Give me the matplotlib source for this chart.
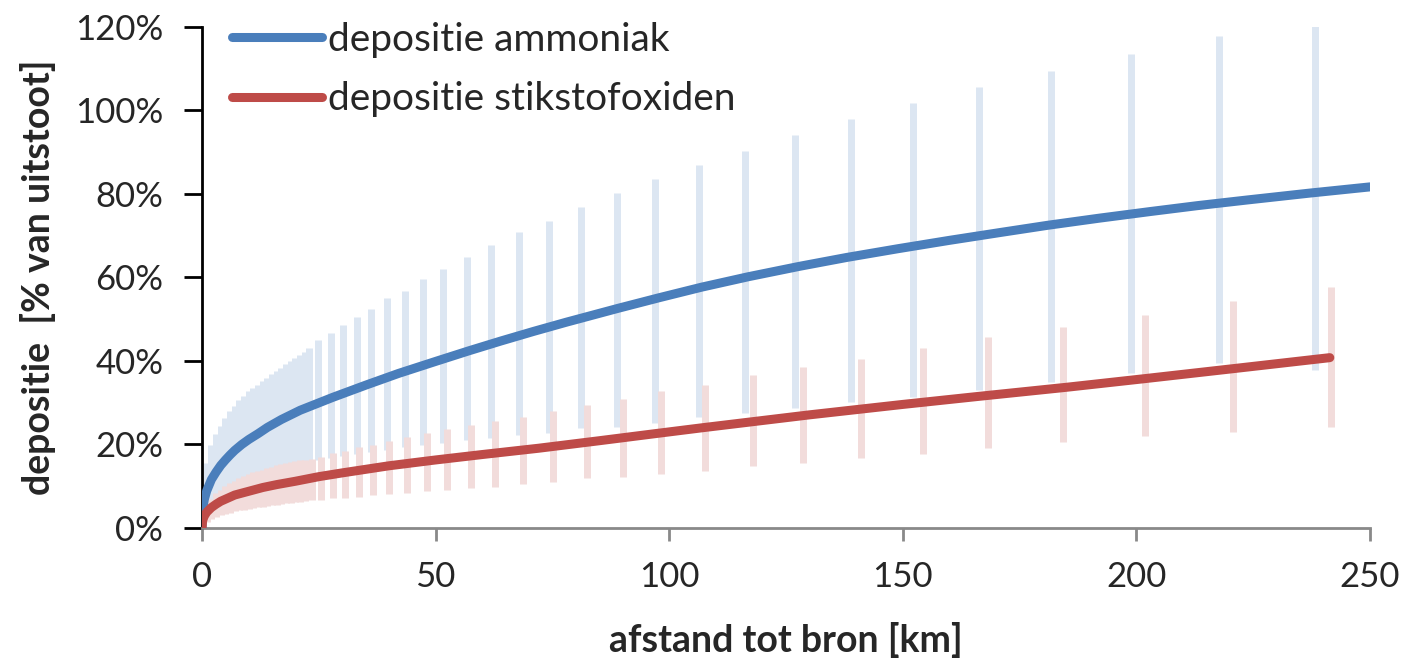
import matplotlib.pyplot as plt
from matplotlib.ticker import PercentFormatter

plt.rcParams['font.family'] = ['Lato', 'DejaVu Sans']

# central curves (km, % of emission)
nh3_x = [0, 0.1, 0.25, 0.5, 1, 2, 3, 4, 5, 6, 7, 8.5, 10, 12, 14, 17, 21, 28, 35, 42,
         50, 57, 64, 71, 78, 89, 98, 107, 117, 128, 138, 149, 160, 171, 181, 192, 203,
         213, 224, 237, 250]
nh3_y = [0, 3.7, 5.3, 6.9, 8.9, 11.6, 13.4, 15.0, 16.3, 17.5, 18.6, 20.0, 21.2, 22.6,
         24.1, 26.0, 28.2, 31.3, 34.2, 37.0, 39.9, 42.4, 44.8, 47.1, 49.3, 52.6, 55.2,
         57.7, 60.2, 62.7, 64.8, 66.9, 68.9, 70.8, 72.5, 74.2, 75.8, 77.2, 78.6, 80.2,
         81.7]

nox_x = [0, 0.1, 0.25, 0.5, 1, 2, 3, 4, 5, 7, 10, 13, 16, 20, 25, 30, 40, 50, 60, 72,
         85, 97, 107, 130, 150, 166, 185, 202, 221, 241.4]
nox_y = [0, 1.6, 2.2, 2.9, 3.8, 4.9, 5.7, 6.4, 6.9, 7.9, 8.8, 9.7, 10.4, 11.2, 12.3,
         13.2, 14.9, 16.3, 17.6, 19.1, 20.9, 22.6, 24.0, 27.1, 29.6, 31.5, 33.7, 35.8,
         38.2, 40.8]

# uncertainty ranges ammoniak
nh3_bar_x = [1, 2, 3, 4, 5, 6, 7, 8, 9, 10, 11, 12, 13, 14, 15, 16, 17, 18, 19, 20,
             21, 22, 23, 24.9, 27.5, 30.1, 33.1, 36.1, 39.5, 43.4, 47.2, 51.5, 56.7,
             61.8, 67.8, 74.2, 81.1, 88.8, 97.0, 106.4, 116.2, 126.9, 138.9, 152.2,
             166.3, 181.7, 198.8, 217.7, 238.2]
nh3_bar_hi = [15.5, 19.8, 22.5, 24.5, 26.3, 28.0, 29.3, 30.6, 31.7, 32.8, 33.6, 34.3,
              35.1, 36.0, 36.8, 37.6, 38.4, 39.2, 39.9, 40.6, 41.4, 42.2, 43.0, 45.0,
              46.8, 48.7, 50.6, 52.5, 55.0, 56.8, 59.7, 62.1, 65.0, 67.9, 70.8, 73.6,
              77.0, 80.3, 83.7, 87.0, 90.4, 94.2, 98.0, 101.9, 105.7, 109.5, 113.5,
              117.8, 121.0]
nh3_bar_lo = [3.5, 5.2, 6.5, 7.5, 8.3, 9.0, 9.6, 10.2, 10.7, 11.2, 11.7, 12.1, 12.5,
              12.9, 13.3, 13.7, 14.0, 14.4, 14.7, 15.0, 15.3, 15.6, 15.9, 16.3, 16.8,
              17.3, 17.8, 18.3, 18.8, 19.3, 19.9, 20.4, 21.0, 21.6, 22.2, 22.8, 23.9,
              24.3, 25.2, 26.7, 27.6, 28.7, 30.1, 31.4, 33.0, 35.0, 37.2, 39.4, 37.8]

# uncertainty ranges stikstofoxiden
nox_bar_x = [1, 2, 3, 4, 5, 6, 7, 8, 9, 10, 11, 12, 13, 14, 15, 16, 17, 18, 19, 20,
             21, 22, 23.5, 25.5, 28.0, 30.6, 33.6, 36.5, 40.0, 43.8, 48.1, 52.4, 57.6,
             62.7, 68.6, 75.1, 82.3, 90.0, 98.2, 107.6, 117.9, 128.6, 141.0, 154.3,
             168.3, 184.3, 201.8, 220.7, 241.6]
nox_bar_hi = [5.0, 7.0, 8.3, 9.2, 10.0, 10.7, 11.3, 11.9, 12.4, 12.9, 13.3, 13.7,
              14.0, 14.4, 14.7, 15.0, 15.3, 15.5, 15.8, 16.0, 16.2, 16.4, 16.5, 17.1,
              18.0, 18.5, 19.5, 19.9, 20.9, 21.9, 22.8, 23.8, 24.7, 25.7, 26.7, 28.1,
              29.5, 30.9, 32.9, 34.3, 36.6, 38.6, 40.5, 43.0, 45.8, 48.2, 51.1, 54.4,
              57.8]
nox_bar_lo = [1.5, 2.2, 2.7, 3.1, 3.4, 3.7, 4.0, 4.2, 4.4, 4.6, 4.8, 5.0, 5.1, 5.3,
              5.4, 5.6, 5.7, 5.9, 6.0, 6.2, 6.3, 6.5, 6.7, 6.7, 7.1, 7.1, 7.5, 7.9,
              8.1, 8.5, 8.9, 9.1, 9.5, 9.9, 10.5, 11.0, 11.9, 12.3, 12.9, 13.7, 14.9,
              15.6, 16.7, 17.7, 19.1, 20.5, 22.0, 22.9, 24.3]

blue = '#4A7EBB'
red = '#BE4B48'
text_col = '#262626'

fig = plt.figure(figsize=(14.08, 6.66), dpi=100)
ax = fig.add_axes([0.1435, 0.2072, 0.8295, 0.7523])

ax.vlines(nh3_bar_x, nh3_bar_lo, nh3_bar_hi, colors='#DCE6F2', lw=5, capstyle='butt', zorder=1)
ax.vlines(nox_bar_x, nox_bar_lo, nox_bar_hi, colors='#F2DCDB', lw=5, capstyle='butt', zorder=2)

ax.plot(nh3_x, nh3_y, color=blue, lw=6.5, solid_capstyle='round', solid_joinstyle='round',
        zorder=3, label='depositie ammoniak')
ax.plot(nox_x, nox_y, color=red, lw=6.5, solid_capstyle='round', solid_joinstyle='round',
        zorder=4, label='depositie stikstofoxiden')

ax.set_xlim(0, 250)
ax.set_ylim(0, 120)
ax.set_xticks([0, 50, 100, 150, 200, 250])
ax.set_yticks([0, 20, 40, 60, 80, 100, 120])
ax.yaxis.set_major_formatter(PercentFormatter(decimals=0))

for side in ['top', 'right']:
    ax.spines[side].set_visible(False)
ax.spines['left'].set_color('black')
ax.spines['left'].set_linewidth(2)
ax.spines['bottom'].set_color('#898989')
ax.spines['bottom'].set_linewidth(2)

ax.tick_params(axis='y', direction='out', length=13, width=2, color='black',
               labelsize=25, labelcolor=text_col, pad=15)
ax.tick_params(axis='x', direction='out', length=9, width=2, color='#898989',
               labelsize=25, labelcolor=text_col, pad=15)

fig.text(0.558, 0.039, 'afstand tot bron [km]', ha='center', va='center',
         fontsize=27, fontweight='bold', color=text_col)
fig.text(0.027, 0.584, 'depositie  [% van uitstoot]', ha='center', va='center',
         rotation=90, fontsize=27, fontweight='bold', color=text_col)

ax.legend(loc='upper left', bbox_to_anchor=(0.026, 1.01), frameon=False,
          borderpad=0, borderaxespad=0, fontsize=28, handlelength=2.3,
          handletextpad=0.15, labelspacing=0.6, labelcolor=text_col)

plt.savefig('out.png', dpi=100)
